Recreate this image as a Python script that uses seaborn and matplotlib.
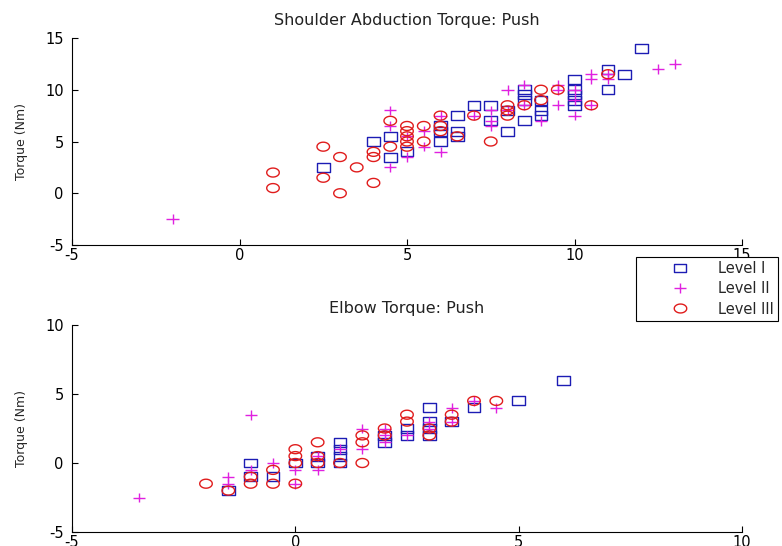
import numpy as np
import pandas as pd
import matplotlib
matplotlib.use("Agg")
import matplotlib.pyplot as plt
from matplotlib.path import Path
from matplotlib.lines import Line2D
import seaborn as sns

# ---------------- data ----------------
levels = ["Level I", "Level II", "Level III"]

sh_I_x = [2.5, 4, 4.5, 4.5, 5, 6, 6, 6, 6.5, 6.5, 6.5, 7, 7.5, 7.5, 8, 8, 8.5, 8.5, 8.5, 8.5, 9, 9, 9, 10, 10, 10, 10, 10, 11, 11, 11.5, 12]
sh_I_y = [2.5, 5, 5.5, 3.5, 4, 6.5, 6, 5, 7.5, 6, 5.5, 8.5, 8.5, 7, 6, 8, 10, 9.5, 9, 7, 9, 8, 7.5, 11, 10, 9.5, 9, 8.5, 12, 10, 11.5, 14]
sh_II_x = [-2, 4.5, 4.5, 4.5, 5, 5, 5.5, 5.5, 6, 6, 7, 7.5, 7.5, 7.5, 8, 8, 8.5, 8.5, 9, 9.5, 9.5, 9.5, 10, 10, 10, 10.5, 10.5, 10.5, 11, 11, 12.5, 13]
sh_II_y = [-2.5, 8, 6.5, 2.5, 5.5, 3.5, 6, 4.5, 7.5, 4, 7.5, 8, 7, 6.5, 10, 8, 10.5, 8.5, 7, 10.5, 10, 8.5, 10, 9, 7.5, 11.5, 11, 8.5, 11, 11.5, 12, 12.5]
sh_III_x = [1, 1, 2.5, 2.5, 3, 3, 3.5, 4, 4, 4, 4.5, 4.5, 5, 5, 5, 5, 5, 5.5, 5.5, 6, 6, 6, 6.5, 7, 7.5, 8, 8, 8, 8.5, 9, 9, 9.5, 10.5, 11]
sh_III_y = [2, 0.5, 4.5, 1.5, 3.5, 0, 2.5, 4, 3.5, 1, 7, 4.5, 6.5, 6, 5.5, 5, 4.5, 6.5, 5, 7.5, 6.5, 6, 5.5, 7.5, 5, 8.5, 8, 7.5, 8.5, 10, 9, 10, 8.5, 11.5]

el_I_x = [-1.5, -1, -1, -0.5, 0, 0.5, 0.5, 1, 1, 1, 1, 2, 2, 2.5, 2.5, 3, 3, 3, 3, 3.5, 4, 5, 6]
el_I_y = [-2, 0, -1, -1, 0, 0.5, 0, 1.5, 1, 0.5, 0, 2, 1.5, 2.5, 2, 4, 3, 2.5, 2, 3, 4, 4.5, 6]
el_II_x = [-3.5, -1.5, -1.5, -1, -1, -0.5, 0, 0, 0.5, 0.5, 1, 1.5, 1.5, 2, 2, 2, 2.5, 3, 3, 3.5, 3.5, 4, 4.5]
el_II_y = [-2.5, -1, -1.5, 3.5, -0.5, 0, -0.5, -1.5, -0.5, 0.5, 1, 2.5, 1, 2.5, 2, 1.5, 2, 3, 2.5, 4, 3, 4.5, 4]
el_III_x = [-2, -1.5, -1, -1, -0.5, -0.5, 0, 0, 0, 0, 0.5, 0.5, 0.5, 1, 1.5, 1.5, 1.5, 2, 2, 2.5, 2.5, 3, 3, 3.5, 3.5, 4, 4.5]
el_III_y = [-1.5, -2, -1, -1.5, -0.5, -1.5, 1, 0.5, 0, -1.5, 1.5, 0.5, 0, 0, 2, 1.5, 0, 2.5, 2, 3.5, 3, 2.5, 2, 3.5, 3, 4.5, 4.5]

titles = ["Shoulder Abduction Torque: Push", "Elbow Torque: Push"]
ylabel = "Torque (Nm)"
top_ticks = [-5, 0, 5, 10, 15]
bot_ticks = [-5, 0, 5, 10]


def frame(xs, ys):
    parts = []
    for x, y, lev in zip(xs, ys, levels):
        parts.append(pd.DataFrame({"x": x, "y": y, "level": lev}))
    return pd.concat(parts, ignore_index=True)


shoulder = frame([sh_I_x, sh_II_x, sh_III_x], [sh_I_y, sh_II_y, sh_III_y])
elbow = frame([el_I_x, el_II_x, el_III_x], [el_I_y, el_II_y, el_III_y])

# ---------------- style ----------------
sns.set_style("white")
plt.rcParams["font.family"] = ["DejaVu Sans"]
plt.rcParams["axes.unicode_minus"] = False

colors = {"Level I": "#1c1cb4", "Level II": "#e020e0", "Level III": "#e01c1c"}

sq = Path([(-0.7, -0.5), (0.7, -0.5), (0.7, 0.5), (-0.7, 0.5), (-0.7, -0.5)],
          [Path.MOVETO, Path.LINETO, Path.LINETO, Path.LINETO, Path.CLOSEPOLY])
t = np.linspace(0, 2 * np.pi, 40)
ell = Path(np.column_stack([0.7 * np.cos(t), 0.5 * np.sin(t)]))
plus = Path([(-0.7, 0), (0.7, 0), (0, -0.55), (0, 0.55)],
            [Path.MOVETO, Path.LINETO, Path.MOVETO, Path.LINETO])
markers = {"Level I": sq, "Level II": plus, "Level III": ell}
sizes = {"Level I": 82, "Level II": 78, "Level III": 82}

fig = plt.figure(figsize=(7.82, 5.46), dpi=100)
W, H = 782, 546
ax1 = fig.add_axes([72 / W, 1 - 245 / H, 670 / W, 207 / H])
ax2 = fig.add_axes([72 / W, 1 - 532 / H, 670 / W, 207 / H])

for ax, df, title, ticks in [(ax1, shoulder, titles[0], top_ticks),
                             (ax2, elbow, titles[1], bot_ticks)]:
    for lev in levels:
        sub = df[df["level"] == lev]
        sns.scatterplot(data=sub, x="x", y="y", ax=ax, marker=markers[lev],
                        s=sizes[lev], facecolor="none", edgecolor=colors[lev],
                        linewidth=1.0, legend=False)
    ax.set_xlim(ticks[0], ticks[-1])
    ax.set_ylim(ticks[0], ticks[-1])
    ax.set_xticks(ticks)
    ax.set_yticks(ticks)
    ax.set_xlabel("")
    ax.set_ylabel(ylabel, fontsize=9, labelpad=12)
    ax.set_title(title, fontsize=11.5, pad=9, color="#222222")
    for s in ["top", "right"]:
        ax.spines[s].set_visible(False)
    for s in ["left", "bottom"]:
        ax.spines[s].set_color("black")
        ax.spines[s].set_linewidth(0.8)
    ax.tick_params(direction="in", length=4, width=0.8, labelsize=10.5,
                   colors="black", bottom=True, left=True)
    ax.tick_params(axis="y", pad=6)
    ax.tick_params(axis="x", pad=2)

handles = []
for lev in levels:
    handles.append(Line2D([], [], linestyle="none", marker=markers[lev],
                          markersize=9, markerfacecolor="none",
                          markeredgecolor=colors[lev], markeredgewidth=1.0,
                          label=lev))
leg = fig.legend(handles=handles, loc="upper left",
                 bbox_to_anchor=(636 / W, 1 - 257 / H), bbox_transform=fig.transFigure,
                 frameon=True, fancybox=False, fontsize=10.5, borderaxespad=0,
                 handlelength=5.4, handletextpad=-0.1, borderpad=0.3,
                 labelspacing=0.35)
leg.get_frame().set_edgecolor("black")
leg.get_frame().set_linewidth(0.8)
leg.get_frame().set_alpha(1)
leg.set_zorder(10)

fig.savefig("out.png", dpi=100)
